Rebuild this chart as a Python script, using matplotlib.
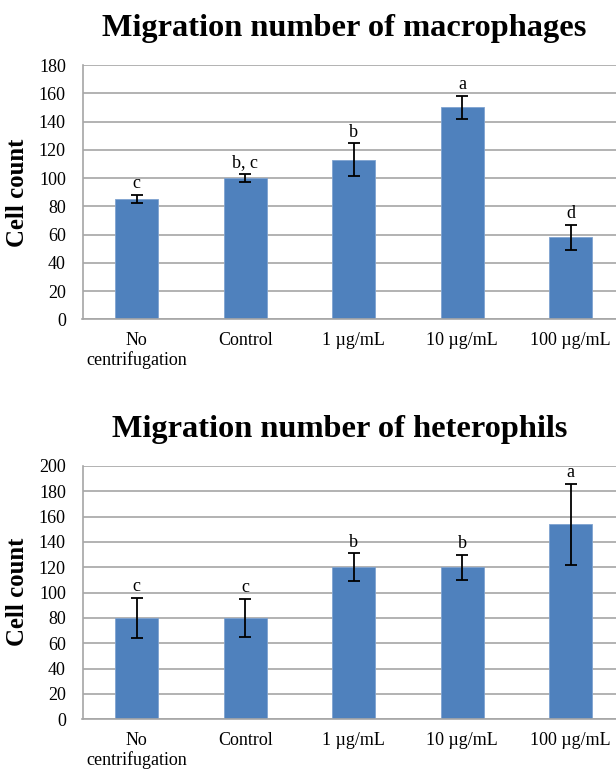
import matplotlib
matplotlib.use("Agg")
import matplotlib.pyplot as plt

plt.rcParams['font.family'] = ['Liberation Serif', 'DejaVu Serif']

categories = ["No\ncentrifugation", "Control", "1 \u00b5g/mL", "10 \u00b5g/mL", "100 \u00b5g/mL"]

macro_values = [85, 100, 113, 150, 58]
macro_err = [3, 3, 11.5, 8.3, 8.6]
macro_letters = ["c", "b, c", "b", "a", "d"]
macro_ticks = [0, 20, 40, 60, 80, 100, 120, 140, 160, 180]

hetero_values = [80, 80, 120, 120, 154]
hetero_err = [16, 15, 11, 9.7, 32]
hetero_letters = ["c", "c", "b", "b", "a"]
hetero_ticks = [0, 20, 40, 60, 80, 100, 120, 140, 160, 180, 200]

titles = ["Migration number of macrophages", "Migration number of heterophils"]

W, H = 616, 771
fig = plt.figure(figsize=(W / 100, H / 100), dpi=100)

BAR = "#4F81BD"
GRID = "#A6A6A6"


def panel(rect, values, errs, letters, ticks, title, title_xy, ylabel_y):
    ax = fig.add_axes(rect)
    x = list(range(len(categories)))
    ax.bar(x, values, width=0.4, color=BAR, edgecolor="#7FA3D0", linewidth=0.6, zorder=2)
    ax.errorbar(x, values, yerr=errs, fmt="none", ecolor="black", elinewidth=1.3,
                capsize=4, capthick=1.3, zorder=3)
    for xi, v, e, t in zip(x, values, errs, letters):
        ax.annotate(t, (xi, v + e), xytext=(0, 2), textcoords="offset points",
                    ha="center", va="bottom", fontsize=13)
    ax.set_xlim(-0.5, len(categories) - 0.5)
    ax.set_ylim(ticks[0], ticks[-1])
    ax.set_yticks(ticks)
    ax.set_xticks(x)
    ax.set_xticklabels(categories, fontsize=13, linespacing=1.15)
    ax.tick_params(axis="y", length=0, pad=12, labelsize=13)
    ax.tick_params(axis="x", length=0, pad=9)
    ax.yaxis.grid(True, color=GRID, linewidth=1.2)
    ax.set_axisbelow(True)
    for s in ["top", "right"]:
        ax.spines[s].set_visible(False)
    for s in ["left", "bottom"]:
        ax.spines[s].set_color(GRID)
        ax.spines[s].set_linewidth(1.2)
    fig.text(title_xy[0] / W, 1 - title_xy[1] / H, title, ha="center", va="baseline",
             fontsize=23.3, fontweight="bold")
    fig.text(18 / W, 1 - ylabel_y / H, "Cell count", rotation=90, ha="center", va="center",
             fontsize=17.8, fontweight="bold")
    return ax


left = 82.5 / W
width = (625 - 82.5) / W
panel([left, 1 - 319.3 / H, width, (319.3 - 65) / H], macro_values, macro_err, macro_letters,
      macro_ticks, titles[0], (344, 36), 193)
panel([left, 1 - 719.3 / H, width, (719.3 - 466) / H], hetero_values, hetero_err, hetero_letters,
      hetero_ticks, titles[1], (340, 437), 592)

fig.savefig("out.png", dpi=100)
